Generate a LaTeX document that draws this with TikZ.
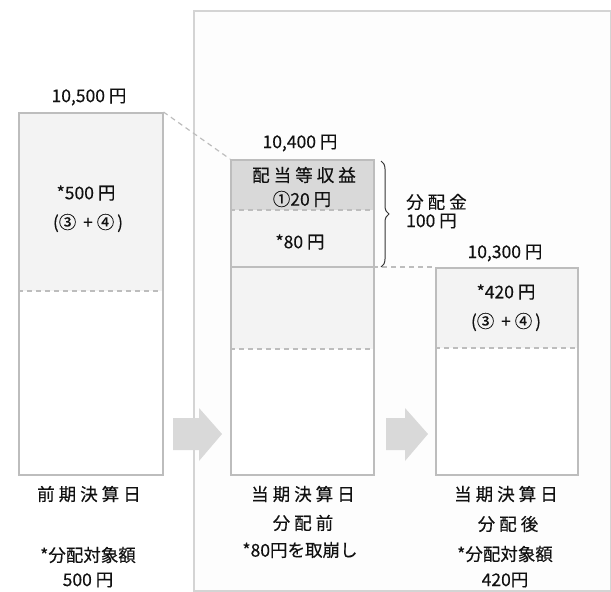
\documentclass[tikz,border=0pt]{standalone}
\usepackage{fontspec}
\setmainfont{Noto Sans CJK JP}[FakeBold=0.3]
\newfontfamily\jw{Noto Sans CJK JP}[LetterSpace=23,FakeBold=0.3]
\usetikzlibrary{decorations.pathreplacing}
\definecolor{edge}{HTML}{BDBDBD}
\definecolor{paneledge}{HTML}{D4D4D4}
\definecolor{panelfill}{HTML}{FDFDFD}
\definecolor{lightfill}{HTML}{F3F3F3}
\definecolor{darkfill}{HTML}{D9D9D9}
\definecolor{arrowfill}{HTML}{D9D9D9}
\definecolor{ink}{HTML}{111111}
\tikzset{
  box/.style={draw=edge, line width=1.5pt, inner sep=0pt, anchor=north west},
  sep/.style={draw=edge, line width=1.2pt, dash pattern=on 5pt off 4pt},
  conn/.style={draw=edge, line width=1.2pt, dash pattern=on 5pt off 4pt},
  lbl/.style={text=ink, font=\fontsize{17.5}{20}\selectfont, inner sep=0pt},
  wlbl/.style={text=ink, font=\fontsize{17.5}{20}\selectfont\jw, inner sep=0pt},
  bigarrow/.style={fill=arrowfill, draw=none},
}
\begin{document}
\begin{tikzpicture}[x=1pt,y=-1pt]
\useasboundingbox (0,0) rectangle (611,592);
% panel
\node[draw=paneledge, fill=panelfill, line width=1.5pt, anchor=north west, minimum width=417pt, minimum height=580pt, inner sep=0pt] (panel) at (193,10) {};
% left box fills
\fill[lightfill] (18,112) rectangle (162,291);
\fill[white] (18,291) rectangle (162,474);
\draw[sep] (18,291) -- (162,291);
\node[box, minimum width=144pt, minimum height=362pt] (L) at (18,112) {};
% middle box fills
\fill[darkfill] (230,159) rectangle (373,210);
\fill[lightfill] (230,210) rectangle (373,349);
\fill[white] (230,349) rectangle (373,474);
\draw[sep] (230,210) -- (373,210);
\draw[sep] (230,349) -- (373,349);
\draw[edge, line width=1.5pt] (230,267) -- (373,267);
\node[box, minimum width=143pt, minimum height=315pt] (M) at (230,159) {};
\coordinate (Msplit) at (373,267);
% right box fills
\fill[lightfill] (435,267) rectangle (577,348);
\fill[white] (435,348) rectangle (577,474);
\draw[sep] (435,348) -- (577,348);
\node[box, minimum width=142pt, minimum height=207pt] (R) at (435,267) {};
% connectors
\draw[conn] (L.north east) -- (M.north west);
\draw[conn] (Msplit) -- (R.north west);
% arrows
\fill[bigarrow] (173,418) -- (199,418) -- (199,408) -- (222,434) -- (199,461) -- (199,450) -- (173,450) -- cycle;
\fill[bigarrow] (386,418) -- (405,418) -- (405,408) -- (428,434) -- (405,461) -- (405,450) -- (386,450) -- cycle;
% brace
\coordinate (bt) at (381,161);
\coordinate (bb) at (381,267);
\draw[draw=ink!85, line width=1pt, decoration={brace, amplitude=8pt}, decorate] (bt) -- (bb);
% labels
\node[lbl] (t1) at (89,97) {10,500 円};
\node[lbl] (t2) at (86,193) {*500 円};
\node[lbl] (t3) at (88,223) {(③\,\ +\ ④\,)};
\node[lbl] (t4) at (300,143) {10,400 円};
\node[wlbl] (t5) at (304,175) {配当等収益};
\node[lbl] (t6) at (302,199) {①20 円};
\node[lbl] (t7) at (300,242) {*80 円};
\node[wlbl, anchor=west] (t8) at (406,202) {分配金};
\node[lbl, anchor=west] (t9) at (406,221) {100 円};
\node[lbl] (t10) at (505,253) {10,300 円};
\node[lbl] (t11) at (506,292) {*420 円};
\node[lbl] (t12) at (506,322) {(③\,\ +\ ④\,)};
\node[wlbl] (b1) at (89,494) {前期決算日};
\node[lbl] (b2) at (88,555) {*分配対象額};
\node[lbl] (b3) at (88,580) {500 円};
\node[wlbl] (b4) at (303,494) {当期決算日};
\node[wlbl] (b5) at (303,523) {分配前};
\node[lbl] (b6) at (300,550) {*80円を取崩し};
\node[wlbl] (b7) at (506,494) {当期決算日};
\node[wlbl] (b8) at (508,524) {分配後};
\node[lbl] (b9) at (505,554) {*分配対象額};
\node[lbl] (b10) at (505,580) {420円};
\end{tikzpicture}
\end{document}
